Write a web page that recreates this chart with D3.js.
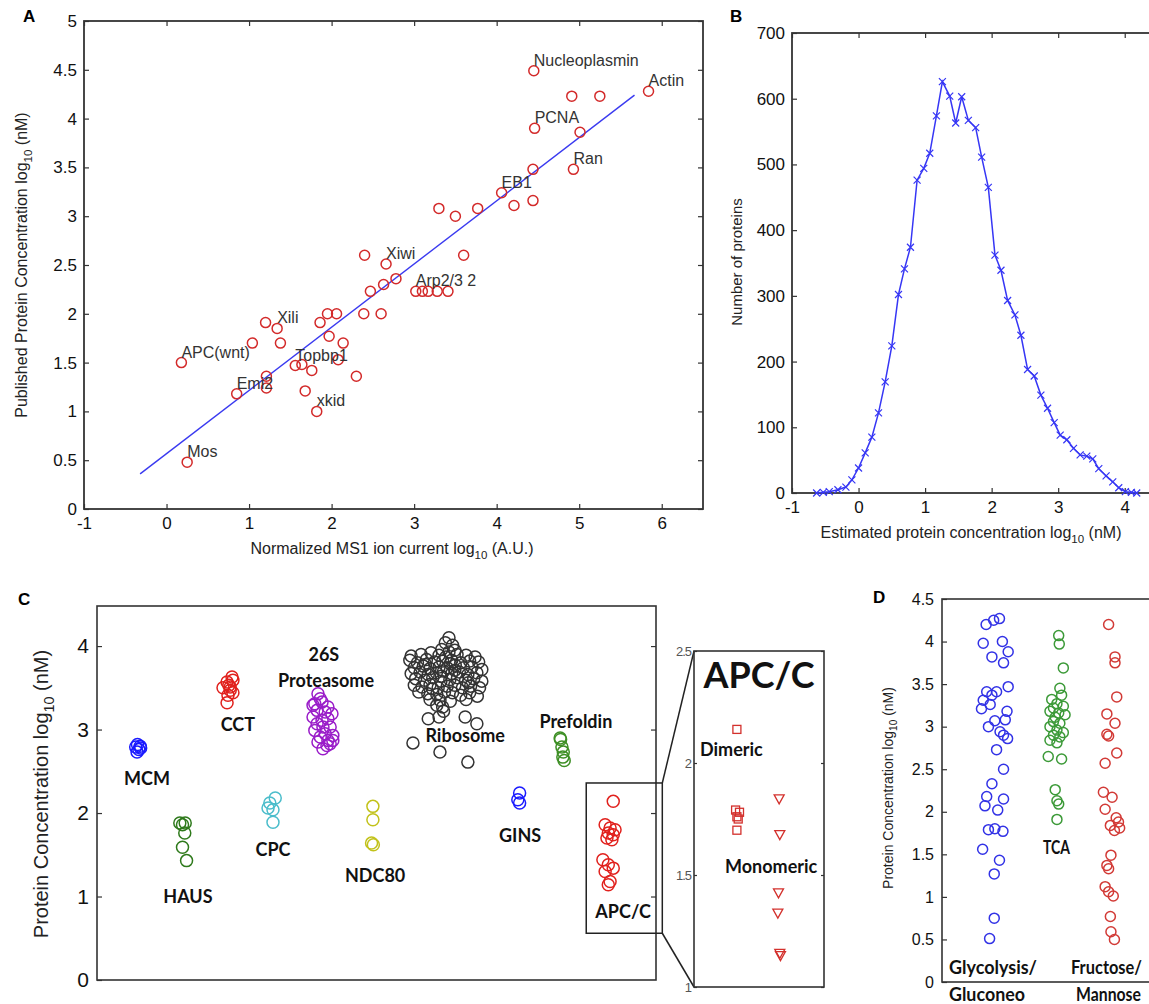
<!DOCTYPE html>
<html>
<head>
<meta charset="utf-8">
<script src="https://cdn.jsdelivr.net/npm/d3@7"></script>
<style>
  body { margin: 0; background: #fff; }
</style>
</head>
<body>
<div id="chart"></div>
<script>
// ---------- data: panel A (published vs MS1 ion current) ----------
const msCurrent = [4.45, 4.91, 5.25, 5.84, 4.46, 5.01, 4.93, 4.44, 4.06, 4.21, 4.44, 3.30, 3.50, 3.77,
  2.40, 3.60, 2.66, 2.78, 2.63, 2.47, 3.02, 3.10, 3.17, 3.28, 3.41, 2.39, 2.60, 1.95, 2.06, 1.86,
  1.97, 2.14, 2.08, 2.30, 1.76, 1.64, 1.56, 1.68, 1.82, 1.34, 1.20, 1.38, 1.04, 0.18, 1.21, 1.21,
  0.85, 0.25]
const publishedConc = [4.49, 4.23, 4.23, 4.28, 3.90, 3.86, 3.48, 3.48, 3.24, 3.11, 3.16, 3.08, 3.00, 3.08,
  2.60, 2.60, 2.51, 2.36, 2.30, 2.23, 2.23, 2.23, 2.23, 2.23, 2.23, 2.00, 2.00, 2.00, 2.00, 1.91,
  1.77, 1.70, 1.53, 1.36, 1.42, 1.48, 1.47, 1.21, 1.00, 1.85, 1.91, 1.70, 1.70, 1.50, 1.36, 1.24,
  1.18, 0.48]
const proteinNames = ['Nucleoplasmin', '', '', 'Actin', 'PCNA', '', 'Ran', '', 'EB1', '', '', '', '', '',
  '', '', 'Xiwi', '', '', '', 'Arp2/3 2', '', '', '', '', '', '', '', '', '',
  '', '', '', '', '', '', 'Topbp1', '', 'xkid', 'Xili', '', '', '', 'APC(wnt)', '', '',
  'Emi2', 'Mos']
const fitX = [-0.32, 5.67]
const fitY = [0.36, 4.24]

// ---------- data: panel B (histogram of estimated concentrations) ----------
const binCenters = [-0.63, -0.53, -0.44, -0.31, -0.19, -0.10, 0.00, 0.10, 0.20, 0.30, 0.40, 0.50, 0.60,
  0.69, 0.78, 0.88, 0.98, 1.07, 1.17, 1.26, 1.37, 1.46, 1.55, 1.65, 1.76, 1.85, 1.95, 2.05, 2.14,
  2.24, 2.35, 2.44, 2.54, 2.64, 2.74, 2.84, 2.94, 3.03, 3.13, 3.23, 3.33, 3.43, 3.52, 3.61, 3.72,
  3.82, 3.91, 4.01, 4.10, 4.18]
const proteinCounts = [0, 1, 2, 5, 9, 20, 38, 61, 85, 122, 169, 224, 302,
  341, 374, 476, 494, 517, 574, 626, 604, 563, 603, 567, 556, 511, 465, 362, 339,
  293, 271, 240, 188, 178, 149, 129, 107, 88, 81, 68, 58, 56, 52, 37, 26,
  17, 8, 2, 1, 0]

// ---------- data: panel C (complexes), [jittered position, log10 nM] ----------
const mcm = [[0.90, 2.82], [0.96, 2.80], [0.86, 2.79], [0.93, 2.76], [0.89, 2.73], [0.97, 2.78]]
const haus = [[1.84, 1.88], [1.96, 1.88], [1.90, 1.86], [1.95, 1.76], [1.90, 1.59], [1.99, 1.43]]
const cct = [[3.00, 3.63], [2.89, 3.57], [3.02, 3.59], [2.80, 3.50], [2.96, 3.47], [2.91, 3.41],
  [3.02, 3.44], [2.89, 3.32], [2.96, 3.51], [2.93, 3.53]]
const cpc = [[3.96, 2.18], [3.84, 2.12], [3.80, 2.06], [3.91, 2.04], [3.91, 1.89]]
const proteasome = [[4.91, 3.43], [4.80, 3.29], [5.00, 3.33], [5.13, 3.27], [4.89, 3.23], [5.07, 3.21],
  [5.22, 3.19], [4.80, 3.15], [5.00, 3.11], [5.13, 3.13], [4.89, 3.07], [5.02, 3.03], [5.18, 3.03],
  [4.84, 2.99], [5.07, 2.95], [5.24, 2.93], [4.96, 2.91], [5.13, 2.87], [5.24, 2.87], [4.91, 2.85],
  [5.11, 2.81], [5.02, 2.77], [5.18, 2.83], [4.96, 3.37], [4.84, 3.31]]
const ndc80 = [[6.13, 2.08], [6.13, 1.92], [6.10, 1.64], [6.14, 1.62]]
const ribosome = [[7.82, 4.10], [7.74, 4.04], [7.90, 4.01], [7.66, 3.96], [7.95, 3.95], [7.82, 3.93],
  [6.98, 3.88], [7.20, 3.90], [7.42, 3.92], [7.60, 3.89], [7.75, 3.87], [8.00, 3.90], [8.20, 3.89], [8.40, 3.87],
  [6.95, 3.83], [7.12, 3.80], [7.32, 3.84], [7.50, 3.81], [7.68, 3.82], [7.88, 3.83], [8.08, 3.80], [8.28, 3.82], [8.48, 3.81],
  [7.05, 3.74], [7.25, 3.76], [7.40, 3.73], [7.60, 3.75], [7.78, 3.74], [7.96, 3.77], [8.14, 3.74], [8.33, 3.75], [8.55, 3.72],
  [6.98, 3.67], [7.18, 3.69], [7.36, 3.66], [7.54, 3.68], [7.70, 3.70], [7.88, 3.67], [8.05, 3.69], [8.24, 3.66], [8.44, 3.68],
  [7.08, 3.61], [7.28, 3.59], [7.46, 3.62], [7.64, 3.58], [7.84, 3.60], [8.01, 3.62], [8.19, 3.59], [8.37, 3.61], [8.55, 3.58],
  [7.05, 3.53], [7.22, 3.51], [7.40, 3.54], [7.58, 3.50], [7.78, 3.52], [7.95, 3.53], [8.12, 3.50], [8.30, 3.52], [8.50, 3.50],
  [7.15, 3.45], [7.35, 3.43], [7.55, 3.42], [7.72, 3.45], [7.90, 3.44], [8.08, 3.41], [8.28, 3.44], [8.45, 3.40],
  [7.30, 3.78], [7.65, 3.64], [7.95, 3.71], [8.25, 3.56], [7.45, 3.49], [7.85, 3.79],
  [7.40, 3.36], [7.62, 3.35], [7.85, 3.34], [8.20, 3.36], [7.55, 3.29], [7.70, 3.22],
  [7.02, 2.84], [7.36, 3.13], [7.60, 3.15], [7.68, 3.27], [8.18, 3.15], [8.44, 3.07], [7.62, 2.73], [8.24, 2.61]]
const gins = [[9.39, 2.24], [9.35, 2.16], [9.39, 2.12]]
const prefoldin = [[10.29, 2.90], [10.30, 2.88], [10.33, 2.79], [10.36, 2.73], [10.35, 2.67], [10.38, 2.63]]
const apcc = [[11.47, 2.14], [11.29, 1.86], [11.40, 1.82], [11.51, 1.80], [11.36, 1.76], [11.47, 1.74],
  [11.33, 1.70], [11.44, 1.68], [11.24, 1.44], [11.36, 1.38], [11.47, 1.34], [11.29, 1.30],
  [11.40, 1.18], [11.36, 1.14]]

// inset: APC/C split by form
const dimeric = [[0.33, 2.15], [0.32, 1.79], [0.35, 1.78], [0.33, 1.76], [0.34, 1.75], [0.33, 1.70]]
const monomeric = [[0.655, 1.84], [0.66, 1.68], [0.65, 1.42], [0.645, 1.33], [0.66, 1.15], [0.665, 1.14]]

// ---------- data: panel D (metabolic pathways) ----------
const glycolysis = [[0.76, 4.20], [0.89, 4.25], [0.99, 4.27], [0.71, 3.98], [1.04, 4.00], [1.14, 3.88],
  [0.86, 3.82], [1.06, 3.75], [1.14, 3.47], [0.94, 3.41], [0.86, 3.37], [0.77, 3.41], [0.71, 3.31],
  [0.83, 3.26], [0.68, 3.21], [1.12, 3.18], [1.09, 3.08], [0.91, 3.07], [0.80, 3.00], [1.00, 2.94],
  [1.06, 2.90], [1.13, 2.86], [0.94, 2.73], [1.06, 2.50], [0.86, 2.33], [0.77, 2.18], [1.06, 2.15],
  [0.74, 2.07], [0.96, 2.02], [0.80, 1.79], [0.91, 1.80], [1.05, 1.77], [0.70, 1.56], [0.99, 1.43],
  [0.90, 1.27], [0.90, 0.75], [0.82, 0.51]]
const tca = [[2.01, 4.07], [2.02, 3.97], [2.09, 3.69], [2.03, 3.45], [2.06, 3.37], [1.89, 3.32],
  [1.98, 3.27], [2.09, 3.24], [1.92, 3.22], [1.86, 3.18], [2.01, 3.16], [2.12, 3.14], [1.95, 3.11],
  [1.92, 3.06], [2.03, 3.04], [1.86, 3.00], [1.98, 2.96], [2.09, 2.93], [1.92, 2.90], [2.03, 2.88],
  [1.86, 2.84], [1.98, 2.81], [1.83, 2.65], [2.06, 2.62], [1.95, 2.26], [1.98, 2.13], [2.01, 2.09],
  [1.98, 1.91]]
const fructose = [[2.87, 4.20], [2.98, 3.82], [2.98, 3.75], [3.01, 3.35], [2.84, 3.15], [2.98, 3.04],
  [2.84, 2.91], [2.87, 2.89], [3.01, 2.69], [2.81, 2.57], [2.78, 2.23], [2.93, 2.17], [2.81, 2.03],
  [3.00, 1.93], [3.04, 1.88], [2.90, 1.84], [3.06, 1.81], [2.97, 1.78], [2.91, 1.49], [2.84, 1.37],
  [2.87, 1.33], [2.81, 1.12], [2.87, 1.06], [2.95, 1.01], [2.90, 0.77], [2.91, 0.59], [2.97, 0.50]]

// ---------- styling ----------
const SANS = "'Liberation Sans', Arial, sans-serif"
const BOLD = "Lato, 'Open Sans', sans-serif"
const INK = '#333'

const svg = d3.select('#chart').append('svg')
  .attr('width', 1149)
  .attr('height', 1004)
  .style('background', '#fff')

const frame = (g, x, y, sw = 1.5) => {
  const [x0, x1] = x.range(), [y0, y1] = y.range()
  g.append('rect')
    .attr('x', x0).attr('y', y1)
    .attr('width', x1 - x0).attr('height', y0 - y1)
    .attr('fill', 'none').attr('stroke', INK).attr('stroke-width', sw)
}

const ticks = (g, axis, shift, fs, labels = true) => {
  const a = g.append('g').attr('transform', shift).call(axis)
  a.select('.domain').remove()
  a.selectAll('line').attr('stroke', INK).attr('stroke-width', 1.2)
  if (labels)
    a.selectAll('text').attr('font-family', SANS).attr('font-size', fs).attr('fill', '#111')
  else
    a.selectAll('text').remove()
  return a
}

// label with subscript "10"
const subText = (t, pre, sub, post, fs) => {
  t.append('tspan').text(pre)
  t.append('tspan').attr('dy', fs * 0.32).attr('font-size', fs * 0.72).text(sub)
  t.append('tspan').attr('dy', -fs * 0.32).text(post)
}

const letter = (x, y, s) =>
  svg.append('text').attr('x', x).attr('y', y)
    .attr('font-family', SANS).attr('font-weight', 'bold').attr('font-size', 17)
    .text(s)

const fmt = d => String(d)

// ================= Panel A =================
{
  const g = svg.append('g')
  const x = d3.scaleLinear().domain([-1, 6.5]).range([84, 703])
  const y = d3.scaleLinear().domain([0, 5]).range([509, 21])
  const xt = [-1, 0, 1, 2, 3, 4, 5, 6]
  const yt = d3.range(0, 5.01, 0.5)

  ticks(g, d3.axisBottom(x).tickValues(xt).tickSize(-5).tickPadding(8).tickFormat(fmt), `translate(0,${y(0)})`, 17)
  ticks(g, d3.axisTop(x).tickValues(xt).tickSize(-5), `translate(0,${y(5)})`, 17, false)
  ticks(g, d3.axisLeft(y).tickValues(yt).tickSize(-5).tickPadding(7).tickFormat(fmt), `translate(${x(-1)},0)`, 17)
  ticks(g, d3.axisRight(y).tickValues(yt).tickSize(-5), `translate(${x(6.5)},0)`, 17, false)
  frame(g, x, y, 1.8)

  g.append('path')
    .datum(fitX.map((v, i) => [v, fitY[i]]))
    .attr('d', d3.line().x(d => x(d[0])).y(d => y(d[1])))
    .attr('stroke', '#3a3af0').attr('stroke-width', 1.4).attr('fill', 'none')

  const pts = msCurrent.map((v, i) => ({ x: v, y: publishedConc[i], name: proteinNames[i] }))

  g.selectAll('.pt').data(pts).enter()
    .append('circle')
      .attr('cx', d => x(d.x)).attr('cy', d => y(d.y)).attr('r', 5)
      .attr('fill', 'none').attr('stroke', '#d32a2a').attr('stroke-width', 1.5)

  g.selectAll('.lbl').data(pts.filter(d => d.name)).enter()
    .append('text')
      .attr('x', d => x(d.x)).attr('y', d => y(d.y) - 5)
      .attr('font-family', SANS).attr('font-size', 16).attr('fill', '#333')
      .text(d => d.name)

  const yl = g.append('text')
    .attr('transform', 'translate(27,265) rotate(-90)')
    .attr('text-anchor', 'middle')
    .attr('font-family', SANS).attr('font-size', 16).attr('fill', '#222')
  subText(yl, 'Published Protein Concentration log', '10', ' (nM)', 16)

  const xl = g.append('text')
    .attr('x', 392).attr('y', 554)
    .attr('text-anchor', 'middle')
    .attr('font-family', SANS).attr('font-size', 16).attr('fill', '#222')
  subText(xl, 'Normalized MS1 ion current log', '10', ' (A.U.)', 16)

  letter(23, 22, 'A')
}

// ================= Panel B =================
{
  const g = svg.append('g')
  const x = d3.scaleLinear().domain([-1, 4.5]).range([792, 1158])
  const y = d3.scaleLinear().domain([0, 700]).range([493, 33])
  const xt = [-1, 0, 1, 2, 3, 4]
  const yt = d3.range(0, 701, 100)

  ticks(g, d3.axisBottom(x).tickValues(xt).tickSize(-5).tickPadding(8).tickFormat(fmt), `translate(0,${y(0)})`, 17)
  ticks(g, d3.axisTop(x).tickValues(xt).tickSize(-5), `translate(0,${y(700)})`, 17, false)
  ticks(g, d3.axisLeft(y).tickValues(yt).tickSize(-5).tickPadding(7).tickFormat(fmt), `translate(${x(-1)},0)`, 17)
  frame(g, x, y, 1.8)

  const pts = binCenters.map((v, i) => [v, proteinCounts[i]])
  g.append('path')
    .datum(pts)
    .attr('d', d3.line().x(d => x(d[0])).y(d => y(d[1])))
    .attr('stroke', '#3636f5').attr('stroke-width', 1.5).attr('fill', 'none')

  g.selectAll('.mk').data(pts).enter()
    .append('path')
      .attr('transform', d => `translate(${x(d[0])},${y(d[1])})`)
      .attr('d', 'M-3.5,-3.5L3.5,3.5M-3.5,3.5L3.5,-3.5')
      .attr('stroke', '#3636f5').attr('stroke-width', 1.2)

  g.append('text')
    .attr('transform', 'translate(742,262) rotate(-90)')
    .attr('text-anchor', 'middle')
    .attr('font-family', SANS).attr('font-size', 15).attr('fill', '#222')
    .text('Number of proteins')

  const xl = g.append('text')
    .attr('x', 971).attr('y', 538)
    .attr('text-anchor', 'middle')
    .attr('font-family', SANS).attr('font-size', 16).attr('fill', '#222')
  subText(xl, 'Estimated protein concentration log', '10', ' (nM)', 16)

  letter(730, 22, 'B')
}

// ================= Panel C =================
{
  const g = svg.append('g')
  const x = d3.scaleLinear().domain([0, 12.42]).range([97, 656])
  const y = d3.scaleLinear().domain([0, 4.48]).range([980, 606])
  const yt = [0, 1, 2, 3, 4]

  ticks(g, d3.axisLeft(y).tickValues(yt).tickSize(-5).tickPadding(8).tickFormat(fmt), `translate(${x(0)},0)`, 21)
  ticks(g, d3.axisRight(y).tickValues(yt.slice(1)).tickSize(-5), `translate(${x(12.42)},0)`, 21, false)
  frame(g, x, y, 1.6)

  const groups = [
    { pts: mcm, color: '#1a1aff' },
    { pts: haus, color: '#2f7a1c' },
    { pts: cct, color: '#e1211d' },
    { pts: cpc, color: '#4bbdcb' },
    { pts: proteasome, color: '#9a1dc9' },
    { pts: ndc80, color: '#c2c21a' },
    { pts: ribosome, color: '#333333' },
    { pts: gins, color: '#1a1aff' },
    { pts: prefoldin, color: '#3e8f25' },
    { pts: apcc, color: '#e1211d' }
  ]
  groups.forEach(grp => {
    g.append('g').selectAll('circle').data(grp.pts).enter()
      .append('circle')
        .attr('cx', d => x(d[0])).attr('cy', d => y(d[1])).attr('r', 6)
        .attr('fill', 'none').attr('stroke', grp.color).attr('stroke-width', 1.5)
  })

  // group labels: [text, x, y] in chart units
  const labels = [
    ['MCM', 1.11, 2.34], ['HAUS', 2.02, 0.92], ['CCT', 3.13, 2.98], ['CPC', 3.91, 1.49],
    ['26S', 5.04, 3.82], ['Proteasome', 5.09, 3.51], ['NDC80', 6.18, 1.17], ['Ribosome', 8.18, 2.85],
    ['Prefoldin', 10.64, 3.02], ['GINS', 9.4, 1.65], ['APC/C', 11.69, 0.74]
  ]
  g.selectAll('.clbl').data(labels).enter()
    .append('text')
      .attr('x', d => x(d[1])).attr('y', d => y(d[2]))
      .attr('text-anchor', 'middle')
      .attr('font-family', BOLD).attr('font-weight', 'bold').attr('font-size', 18).attr('fill', '#111')
      .text(d => d[0])

  // zoom box around APC/C
  const box = { x0: 10.87, x1: 12.56, y0: 0.56, y1: 2.36 }
  g.append('rect')
    .attr('x', x(box.x0)).attr('y', y(box.y1))
    .attr('width', x(box.x1) - x(box.x0)).attr('height', y(box.y0) - y(box.y1))
    .attr('fill', 'none').attr('stroke', '#222').attr('stroke-width', 1.5)

  // inset
  const xi = d3.scaleLinear().domain([0, 1]).range([694, 824])
  const yi = d3.scaleLinear().domain([1, 2.5]).range([987, 651])
  const it = [1, 1.5, 2, 2.5]

  g.append('line')
    .attr('x1', x(box.x1)).attr('y1', y(box.y1)).attr('x2', xi(0)).attr('y2', yi(2.5))
    .attr('stroke', '#222').attr('stroke-width', 1.5)
  g.append('line')
    .attr('x1', x(box.x1)).attr('y1', y(box.y0)).attr('x2', xi(0)).attr('y2', yi(1))
    .attr('stroke', '#222').attr('stroke-width', 1.5)

  const ia = ticks(g, d3.axisLeft(yi).tickValues(it).tickSize(-3).tickPadding(3).tickFormat(fmt), `translate(${xi(0)},0)`, 13)
  ia.selectAll('text').attr('fill', '#555').attr('letter-spacing', -1)
  ticks(g, d3.axisRight(yi).tickValues(it).tickSize(-3), `translate(${xi(1)},0)`, 13, false)
  frame(g, xi, yi, 1.6)

  g.append('text')
    .attr('x', xi(0.5)).attr('y', 688)
    .attr('text-anchor', 'middle')
    .attr('font-family', BOLD).attr('font-weight', 'bold').attr('font-size', 36).attr('fill', '#111')
    .text('APC/C')

  g.selectAll('.sq').data(dimeric).enter()
    .append('rect')
      .attr('x', d => xi(d[0]) - 4).attr('y', d => yi(d[1]) - 4)
      .attr('width', 8).attr('height', 8)
      .attr('fill', 'none').attr('stroke', '#d3302c').attr('stroke-width', 1.3)

  g.selectAll('.tri').data(monomeric).enter()
    .append('path')
      .attr('transform', d => `translate(${xi(d[0])},${yi(d[1])})`)
      .attr('d', 'M-5,-4L5,-4L0,5Z')
      .attr('fill', 'none').attr('stroke', '#d3302c').attr('stroke-width', 1.3)

  g.append('text')
    .attr('x', 700).attr('y', 756)
    .attr('font-family', BOLD).attr('font-weight', 'bold').attr('font-size', 18).attr('fill', '#111')
    .text('Dimeric')
  g.append('text')
    .attr('x', 725).attr('y', 873)
    .attr('font-family', BOLD).attr('font-weight', 'bold').attr('font-size', 18).attr('fill', '#111')
    .text('Monomeric')

  const yl = g.append('text')
    .attr('transform', 'translate(48,794) rotate(-90)')
    .attr('text-anchor', 'middle')
    .attr('font-family', SANS).attr('font-size', 20).attr('fill', '#222')
  subText(yl, 'Protein Concentration log', '10', ' (nM)', 20)

  letter(18, 605, 'C')
}

// ================= Panel D =================
{
  const g = svg.append('g')
  const x = d3.scaleLinear().domain([0, 3.6]).range([942, 1151])
  const y = d3.scaleLinear().domain([0, 4.5]).range([982, 599])
  const yt = d3.range(0, 4.51, 0.5)

  ticks(g, d3.axisLeft(y).tickValues(yt).tickSize(-5).tickPadding(8).tickFormat(fmt), `translate(${x(0)},0)`, 16)
  frame(g, x, y, 1.6)

  const groups = [
    { pts: glycolysis, color: '#3232e6' },
    { pts: tca, color: '#3c9a38' },
    { pts: fructose, color: '#d23a36' }
  ]
  groups.forEach(grp => {
    g.append('g').selectAll('circle').data(grp.pts).enter()
      .append('circle')
        .attr('cx', d => x(d[0])).attr('cy', d => y(d[1])).attr('r', 5)
        .attr('fill', 'none').attr('stroke', grp.color).attr('stroke-width', 1.5)
  })

  // [text, x, baseline, width] in pixels
  const labels = [
    ['Glycolysis/', 949, 974, 88], ['Gluconeo', 949, 1001, 76], ['TCA', 1043, 854, 27],
    ['Fructose/', 1071, 974, 71], ['Mannose', 1076, 1001, 65]
  ]
  g.selectAll('.dlbl').data(labels).enter()
    .append('text')
      .attr('x', d => d[1]).attr('y', d => d[2])
      .attr('textLength', d => d[3]).attr('lengthAdjust', 'spacingAndGlyphs')
      .attr('font-family', BOLD).attr('font-weight', 'bold').attr('font-size', 18).attr('fill', '#111')
      .text(d => d[0])

  const yl = g.append('text')
    .attr('transform', 'translate(893,788) rotate(-90)')
    .attr('text-anchor', 'middle')
    .attr('font-family', SANS).attr('font-size', 14).attr('fill', '#222')
  subText(yl, 'Protein Concentration log', '10', ' (nM)', 14)

  letter(873, 603, 'D')
}
</script>
</body>
</html>
